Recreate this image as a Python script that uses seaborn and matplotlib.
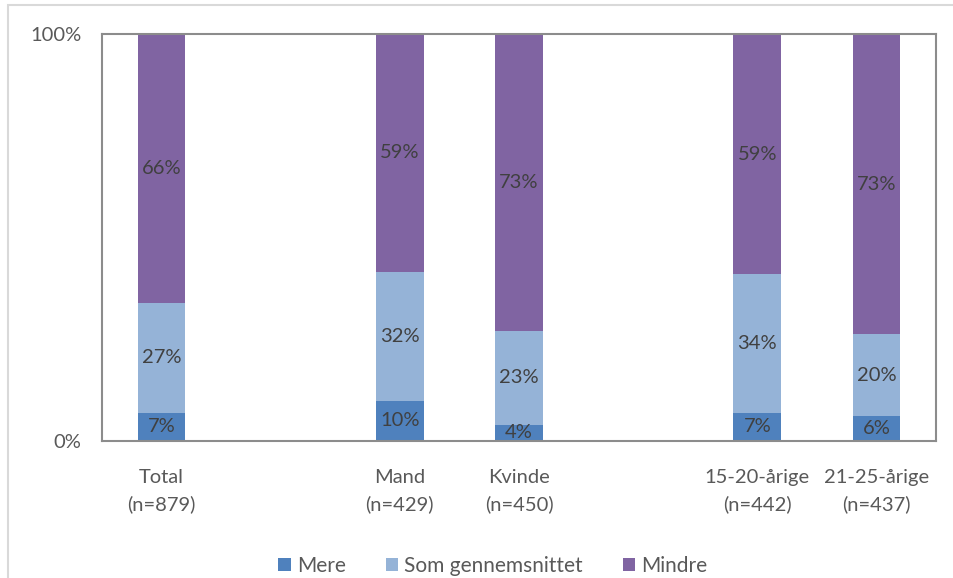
import matplotlib
matplotlib.use("Agg")
import matplotlib.pyplot as plt
from matplotlib.patches import Rectangle
import numpy as np
import pandas as pd
import seaborn as sns

sns.set_theme(style="white")
plt.rcParams["font.family"] = ["Lato", "DejaVu Sans"]

categories = ["Total\n(n=879)", "Mand\n(n=429)", "Kvinde\n(n=450)",
              "15-20-årige\n(n=442)", "21-25-årige\n(n=437)"]
slots = [0, 2, 3, 5, 6]
series = ["Mere", "Som gennemsnittet", "Mindre"]
mere = [7, 10, 4, 7, 6]
som = [27, 32, 23, 34, 20]
mindre = [66, 59, 73, 59, 73]
colors = ["#4F81BD", "#95B3D7", "#8064A2"]

values = np.array([mere, som, mindre], dtype=float)
shares = values / values.sum(axis=0)  # 100% stacked

fig = plt.figure(figsize=(9.54, 5.78), dpi=100)
ax = fig.add_axes([102 / 954, 1 - 441 / 578, 834 / 954, 407 / 578])

text_col = "#595959"
bottom = np.zeros(len(categories))
for i, name in enumerate(series):
    df = pd.DataFrame({"x": slots, "y": shares[i]})
    sns.barplot(data=df, x="x", y="y", native_scale=True, width=0.4,
                color=colors[i], saturation=1, bottom=bottom, ax=ax,
                label=name, linewidth=0)
    for x, b, h, v in zip(slots, bottom, shares[i], values[i]):
        ax.text(x, b + h / 2, f"{int(v)}%", ha="center", va="center",
                fontsize=14.5, color="#404040")
    bottom = bottom + shares[i]

handles, labels = ax.get_legend_handles_labels()
if ax.get_legend() is not None:
    ax.get_legend().remove()

ax.set_xlim(-0.5, 6.5)
ax.set_ylim(0, 1)
ax.set_xticks(slots)
ax.set_xticklabels(categories, fontsize=14.5, color=text_col, linespacing=1.65)
ax.set_yticks([0, 1])
ax.set_yticklabels(["0%", "100%"], fontsize=14.5, color=text_col)
ax.tick_params(axis="x", length=0, pad=20)
ax.tick_params(axis="y", length=0, pad=15)
ax.set_xlabel("")
ax.set_ylabel("")
for s in ax.spines.values():
    s.set_visible(True)
    s.set_color("#8C8C8C")
    s.set_linewidth(1.5)

fig.legend(handles, labels, loc="center", bbox_to_anchor=(493 / 954, 1 - 566 / 578),
           ncol=3, frameon=False, fontsize=15, handlelength=0.6, handleheight=0.6,
           handletextpad=0.3, columnspacing=1.9, labelcolor=text_col)

fig.patches.append(Rectangle((8 / 954, -0.1), 1.2, 1 - 5 / 578 + 0.1,
                             transform=fig.transFigure, fill=False,
                             edgecolor="#D9D9D9", linewidth=1.5))

fig.savefig("out.png", dpi=100)
